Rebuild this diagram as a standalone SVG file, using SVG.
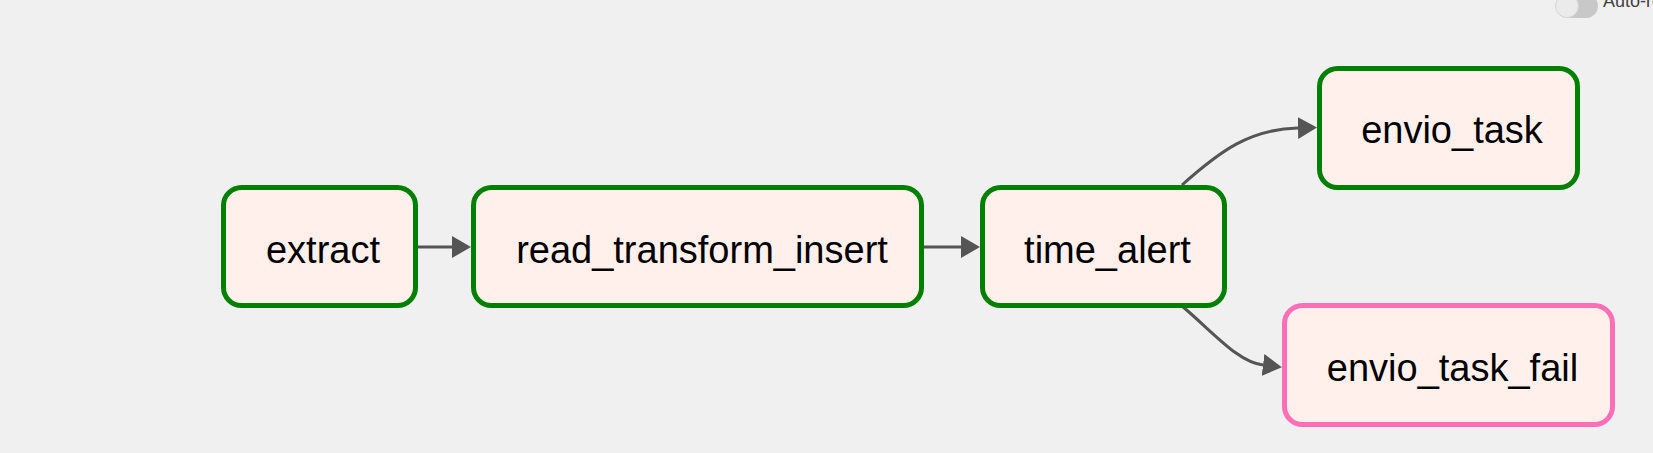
<svg xmlns="http://www.w3.org/2000/svg" width="1653" height="453" viewBox="0 0 1653 453">
  <style>
    .node rect { fill: #fff0eb; stroke-width: 5; }
    .ok rect { stroke: #008000; }
    .fail rect { stroke: #ff6eb6; }
    .node text { font-family: "Liberation Sans", Arial, sans-serif; font-size: 38px; fill: #000; text-anchor: middle; }
    .edge { fill: none; stroke: #555; stroke-width: 3; marker-end: url(#arrow); }
  </style>
  <defs>
    <marker id="arrow" markerUnits="userSpaceOnUse" markerWidth="20" markerHeight="22" refX="0" refY="11" orient="auto">
      <path d="M0,0 L19,11 L0,22 Z" fill="#555"/>
    </marker>
  </defs>
  <rect x="0" y="0" width="1653" height="453" fill="#f0f0f0"/>

  <g id="toggle">
    <rect x="1556" y="-6" width="42" height="24" rx="12" fill="#c8c8c8"/>
    <circle cx="1567" cy="6" r="11.5" fill="#ebebeb" stroke="#d6d6d6" stroke-width="1"/>
    <text x="1603" y="7" font-family="Liberation Sans, Arial, sans-serif" font-size="18" fill="#404040">Auto-refresh</text>
  </g>

  <g id="connectors">
    <path class="edge" d="M418,247 L452,247"/>
    <path class="edge" d="M924,247 L961,247"/>
    <path class="edge" d="M1182,185 C1220,151 1250,129 1298,128"/>
    <path class="edge" d="M1182,306 C1215,334 1238,362 1263,365"/>
  </g>

  <g id="extract" class="node ok">
    <rect x="223.5" y="187.5" width="192" height="118" rx="18"/>
    <text x="323" y="263">extract</text>
  </g>
  <g id="read_transform_insert" class="node ok">
    <rect x="473.5" y="187.5" width="448" height="118" rx="18"/>
    <text x="702" y="263">read_transform_insert</text>
  </g>
  <g id="time_alert" class="node ok">
    <rect x="982.5" y="187.5" width="242" height="118" rx="18"/>
    <text x="1107.5" y="263">time_alert</text>
  </g>
  <g id="envio_task" class="node ok">
    <rect x="1319.5" y="68.5" width="258" height="119" rx="18"/>
    <text x="1452" y="143">envio_task</text>
  </g>
  <g id="envio_task_fail" class="node fail">
    <rect x="1284.5" y="305.5" width="328" height="119" rx="18"/>
    <text x="1452.5" y="381">envio_task_fail</text>
  </g>
</svg>
